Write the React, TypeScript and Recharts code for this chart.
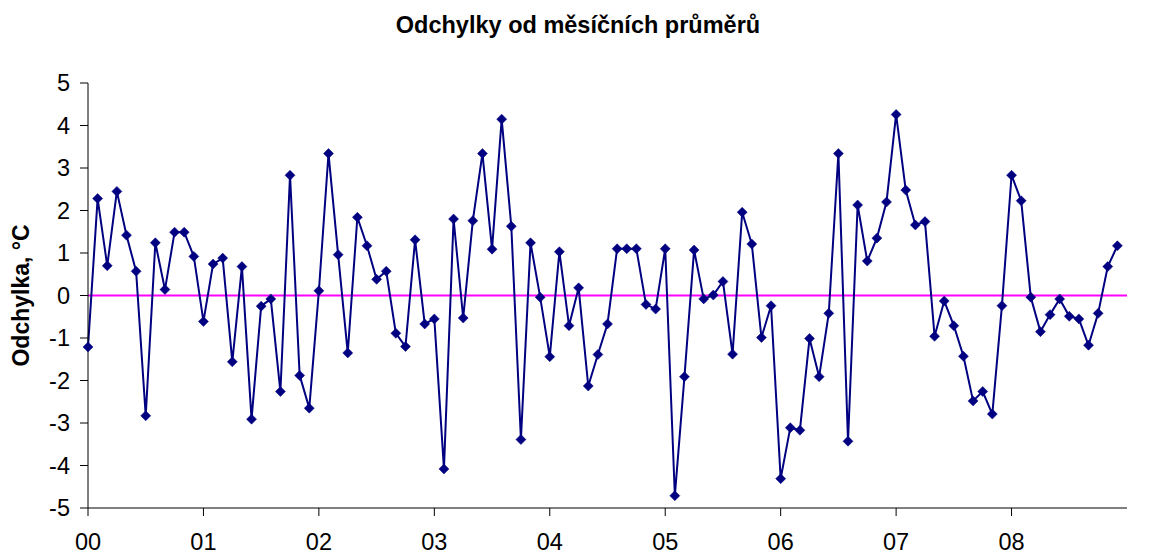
import React from 'react';
import { LineChart, Line, XAxis, YAxis, ReferenceLine } from 'recharts';

const values: number[] = [
  -1.21, 2.28, 0.70, 2.45, 1.42, 0.57, -2.83, 1.24, 0.14, 1.49, 1.49, 0.92,
  -0.61, 0.74, 0.88, -1.56, 0.68, -2.91, -0.25, -0.08, -2.26, 2.83, -1.88, -2.65,
  0.11, 3.34, 0.96, -1.35, 1.84, 1.17, 0.38, 0.57, -0.89, -1.20, 1.31, -0.67,
  -0.55, -4.08, 1.80, -0.53, 1.76, 3.34, 1.09, 4.15, 1.63, -3.39, 1.24, -0.04,
  -1.44, 1.03, -0.71, 0.18, -2.13, -1.39, -0.67, 1.10, 1.10, 1.10, -0.21, -0.32,
  1.10, -4.71, -1.91, 1.07, -0.08, 0.01, 0.33, -1.38, 1.96, 1.21, -0.99, -0.24,
  -4.31, -3.11, -3.17, -1.01, -1.91, -0.42, 3.34, -3.43, 2.13, 0.81, 1.35, 2.20,
  4.26, 2.48, 1.66, 1.74, -0.96, -0.13, -0.71, -1.43, -2.48, -2.26, -2.79, -0.24,
  2.83, 2.23, -0.04, -0.85, -0.45, -0.08, -0.49, -0.55, -1.17, -0.42, 0.68, 1.17,
];

const yearLabels: string[] = ['00', '01', '02', '03', '04', '05', '06', '07', '08'];
const yearTicks: number[] = yearLabels.map((_, i) => i * 12);
const yTicks: number[] = [-5, -4, -3, -2, -1, 0, 1, 2, 3, 4, 5];

const data = values.map((v, i) => ({ m: i, v }));

const FONT = '"Liberation Sans", Arial, sans-serif';

const Diamond = (props: any) => {
  const { cx, cy, index } = props;
  if (cx == null || cy == null) return <g key={`d${index}`} />;
  const r = 5;
  return (
    <polygon
      key={`d${index}`}
      points={`${cx},${cy - r} ${cx + r},${cy} ${cx},${cy + r} ${cx - r},${cy}`}
      fill="#000080"
      stroke="#000080"
      strokeWidth={0.5}
    />
  );
};

export default function App() {
  return (
    <div style={{ position: 'relative', width: 1135, height: 550, fontFamily: FONT }}>
      <div
        style={{
          position: 'absolute',
          left: 0,
          width: 1140,
          top: 4,
          textAlign: 'center',
          fontWeight: 'bold',
          fontSize: 23.5,
          color: '#000',
        }}
      >
        Odchylky od měsíčních průměrů
      </div>
      <LineChart
        width={1135}
        height={550}
        data={data}
        margin={{ top: 75, right: 16, left: 0, bottom: 8 }}
      >
        <XAxis
          dataKey="m"
          type="number"
          domain={[0, 108]}
          ticks={yearTicks}
          interval={0}
          tickFormatter={(v: number) => yearLabels[Math.round(v / 12)] ?? ''}
          height={42}
          tickSize={8}
          tickMargin={17}
          stroke="#000"
          tick={{ fill: '#000', fontSize: 23.5, fontFamily: FONT }}
          tickLine={{ stroke: '#000' }}
          axisLine={{ stroke: '#000' }}
        />
        <YAxis
          type="number"
          domain={[-5, 5]}
          ticks={yTicks}
          interval={0}
          width={80}
          tickSize={8}
          tickMargin={10}
          stroke="#000"
          tick={{ fill: '#000', fontSize: 23.5, fontFamily: FONT }}
          tickLine={{ stroke: '#000' }}
          axisLine={{ stroke: '#000' }}
          label={{
            value: 'Odchylka, °C',
            angle: -90,
            position: 'insideLeft',
            offset: 13,
            style: { fontWeight: 'bold', fontSize: 23, fill: '#000', fontFamily: FONT, textAnchor: 'middle' },
          }}
        />
        <ReferenceLine y={0} stroke="#FF00FF" strokeWidth={2} ifOverflow="extendDomain" />
        <Line
          type="linear"
          dataKey="v"
          stroke="#000080"
          strokeWidth={2}
          dot={Diamond}
          activeDot={false}
          isAnimationActive={false}
        />
      </LineChart>
    </div>
  );
}
